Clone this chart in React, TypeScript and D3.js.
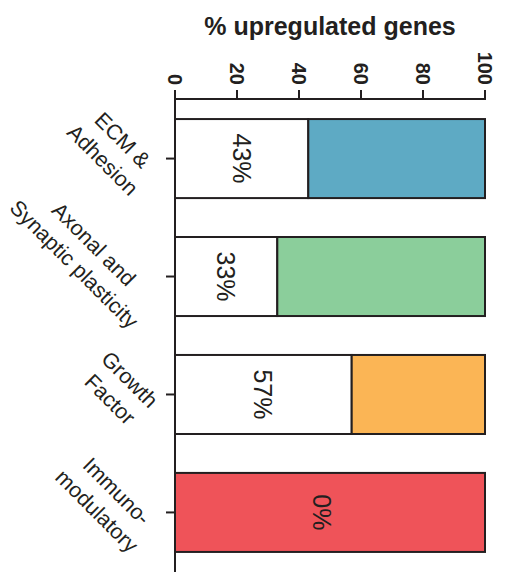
import React, { useEffect, useRef } from "react";
import * as d3 from "d3";

const categories: string[][] = [
  ["ECM &", "Adhesion"],
  ["Axonal and", "Synaptic plasticity"],
  ["Growth", "Factor"],
  ["Immuno-", "modulatory"],
];
const upregulated: number[] = [43, 33, 57, 0];
const colors: string[] = ["#5eaac4", "#8bce9b", "#fbb555", "#ef5359"];
const xTicks: number[] = [0, 20, 40, 60, 80, 100];
const title = "% upregulated genes";

const W = 508;
const H = 573;
const FONT = "'Liberation Sans', Arial, Helvetica, sans-serif";
const INK = "#231f20";

export default function App() {
  const ref = useRef<SVGSVGElement | null>(null);

  useEffect(() => {
    const svg = d3.select(ref.current);
    svg.selectAll("*").remove();

    const x = d3.scaleLinear().domain([0, 100]).range([175, 485]);
    const keys = categories.map((_, i) => String(i));
    const y = d3
      .scaleBand<string>()
      .domain(keys)
      .range([99, 572])
      .paddingInner(0.33)
      .paddingOuter(0.17);

    // title
    svg
      .append("text")
      .attr("x", (x(0) + x(100)) / 2)
      .attr("y", 35)
      .attr("text-anchor", "middle")
      .attr("font-family", FONT)
      .attr("font-weight", "bold")
      .attr("font-size", 25)
      .attr("fill", INK)
      .text(title);

    // bars
    const g = svg.append("g");
    keys.forEach((k, i) => {
      const v = upregulated[i];
      const y0 = y(k)!;
      const bh = y.bandwidth();
      g.append("rect")
        .attr("x", x(0))
        .attr("y", y0)
        .attr("width", x(v) - x(0))
        .attr("height", bh)
        .attr("fill", "#ffffff")
        .attr("stroke", INK)
        .attr("stroke-width", 2);
      g.append("rect")
        .attr("x", x(v))
        .attr("y", y0)
        .attr("width", x(100) - x(v))
        .attr("height", bh)
        .attr("fill", colors[i])
        .attr("stroke", INK)
        .attr("stroke-width", 2);
      const lx = v > 0 ? x(v / 2) : x(50) - 8;
      const ly = y0 + bh / 2;
      g.append("text")
        .attr("transform", `translate(${lx},${ly}) rotate(90)`)
        .attr("text-anchor", "middle")
        .attr("dominant-baseline", "central")
        .attr("font-family", FONT)
        .attr("font-size", 25)
        .attr("fill", INK)
        .text(`${v}%`);
    });

    // top axis
    const top = svg.append("g");
    top
      .append("line")
      .attr("x1", x(0))
      .attr("x2", x(100) + 1)
      .attr("y1", 99)
      .attr("y2", 99)
      .attr("stroke", INK)
      .attr("stroke-width", 2);
    xTicks.forEach((t) => {
      top
        .append("line")
        .attr("x1", x(t))
        .attr("x2", x(t))
        .attr("y1", 99)
        .attr("y2", 90)
        .attr("stroke", INK)
        .attr("stroke-width", 2);
      top
        .append("text")
        .attr("transform", `translate(${x(t)},85) rotate(90)`)
        .attr("text-anchor", "end")
        .attr("dominant-baseline", "central")
        .attr("font-family", FONT)
        .attr("font-weight", "bold")
        .attr("font-size", 20)
        .attr("fill", INK)
        .text(String(t));
    });

    // left axis
    const left = svg.append("g");
    left
      .append("line")
      .attr("x1", x(0))
      .attr("x2", x(0))
      .attr("y1", 98)
      .attr("y2", 572)
      .attr("stroke", INK)
      .attr("stroke-width", 2);
    keys.forEach((k, i) => {
      const cy = y(k)! + y.bandwidth() / 2;
      left
        .append("line")
        .attr("x1", x(0))
        .attr("x2", x(0) - 9)
        .attr("y1", cy)
        .attr("y2", cy)
        .attr("stroke", INK)
        .attr("stroke-width", 2);

      const lines = categories[i];
      const lh = 28;
      const lab = left.append("g");
      const texts = lines.map((ln, j) =>
        lab
          .append("text")
          .attr("x", 0)
          .attr("y", (j - (lines.length - 1) / 2) * lh)
          .attr("text-anchor", "middle")
          .attr("dominant-baseline", "central")
          .attr("font-family", FONT)
          .attr("font-size", 21.5)
          .attr("fill", INK)
          .text(ln)
      );
      const wMax = d3.max(texts, (t) => (t.node() as SVGTextElement).getComputedTextLength()) || 0;
      const hBlock = lh * (lines.length - 1) + 17;
      const cx = x(0) - 9 - 6 - ((wMax + hBlock) / 2) * Math.SQRT1_2;
      const cyy = cy + 7 - 0.17 * wMax;
      lab.attr("transform", `translate(${cx},${cyy}) rotate(45)`);
    });
  }, []);

  return (
    <svg
      ref={ref}
      width={W}
      height={H}
      style={{ position: "absolute", left: 0, top: 0, background: "#ffffff" }}
    />
  );
}
